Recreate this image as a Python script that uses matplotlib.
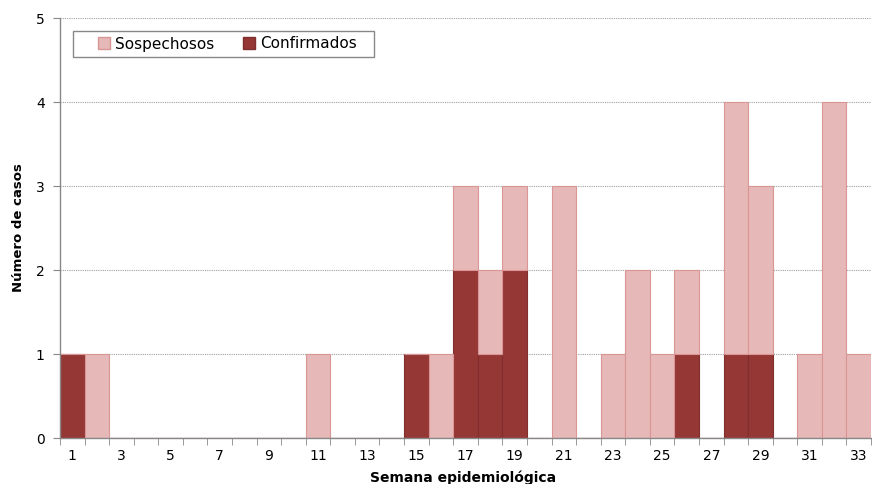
import numpy as np
import matplotlib
matplotlib.use("Agg")
import matplotlib.pyplot as plt
from matplotlib.patches import Patch, Rectangle

# weekly case counts
weeks = list(range(1, 34))
confirmados = [1, 0, 0, 0, 0, 0, 0, 0, 0, 0, 0, 0, 0, 0, 1, 0, 2, 1, 2, 0,
               0, 0, 0, 0, 0, 1, 0, 1, 1, 0, 0, 0, 0]
sospechosos = [0, 1, 0, 0, 0, 0, 0, 0, 0, 0, 1, 0, 0, 0, 0, 1, 1, 1, 1, 0,
               3, 0, 1, 2, 1, 1, 0, 3, 2, 0, 1, 4, 1]

c_light = "#E6B8B7"
c_light_edge = "#DA9694"
c_dark = "#953735"
c_dark_edge = "#7F2F2D"

plt.rcParams["font.family"] = ["DejaVu Sans"]

W, H = 872, 484
fig = plt.figure(figsize=(W / 100, H / 100), dpi=100)
ax = fig.add_axes([60 / W, 1 - 438 / H, 811 / W, 420 / H])

x = np.array(weeks)
conf = np.array(confirmados)
sosp = np.array(sospechosos)

ax.bar(x, conf, width=1.0, color=c_dark, edgecolor=c_dark_edge, linewidth=0.8, zorder=3)
ax.bar(x, sosp, width=1.0, bottom=conf, color=c_light, edgecolor=c_light_edge,
       linewidth=0.8, zorder=3)

ax.set_xlim(0.5, 33.5)
ax.set_ylim(0, 5)

ax.set_yticks(range(0, 6))
ax.yaxis.grid(True, linestyle=(0, (1, 1)), color="#A0A0A0", linewidth=0.8, zorder=0)
ax.tick_params(axis="y", length=5, color="#888888", labelsize=10, pad=6)

# labels on odd weeks, tick marks between categories
ax.set_xticks(x[::2])
ax.set_xticklabels([str(w) for w in weeks[::2]])
ax.set_xticks(np.arange(0.5, 34, 1), minor=True)
ax.tick_params(axis="x", which="major", length=0, labelsize=10, pad=8)
ax.tick_params(axis="x", which="minor", length=5, color="#888888")

for s in ["top", "right"]:
    ax.spines[s].set_visible(False)
for s in ["left", "bottom"]:
    ax.spines[s].set_color("#888888")
    ax.spines[s].set_linewidth(1.0)
    ax.spines[s].set_zorder(4)

ax.set_ylabel("Número de casos", fontsize=9.5, fontweight="bold", labelpad=8)
fig.text(463 / W, 1 - 478 / H, "Semana epidemiológica", ha="center", va="center",
         fontsize=10, fontweight="bold")

# legend frame drawn separately so padding matches the original
fig.patches.append(Rectangle((73 / W, 1 - 57 / H), 301 / W, 26 / H,
                             transform=fig.transFigure, facecolor="white",
                             edgecolor="#888888", linewidth=1.0, zorder=5))
handles = [Patch(facecolor=c_light, edgecolor=c_light_edge, label="Sospechosos"),
           Patch(facecolor=c_dark, edgecolor=c_dark_edge, label="Confirmados")]
leg = fig.legend(handles=handles, loc="center left", bbox_to_anchor=(98 / W, 1 - 44 / H),
                 ncol=2, fontsize=11, frameon=False, handlelength=0.8,
                 handleheight=0.8, handletextpad=0.3, columnspacing=1.9, borderpad=0,
                 borderaxespad=0)
leg.set_zorder(6)

fig.savefig("out.png", dpi=100)
